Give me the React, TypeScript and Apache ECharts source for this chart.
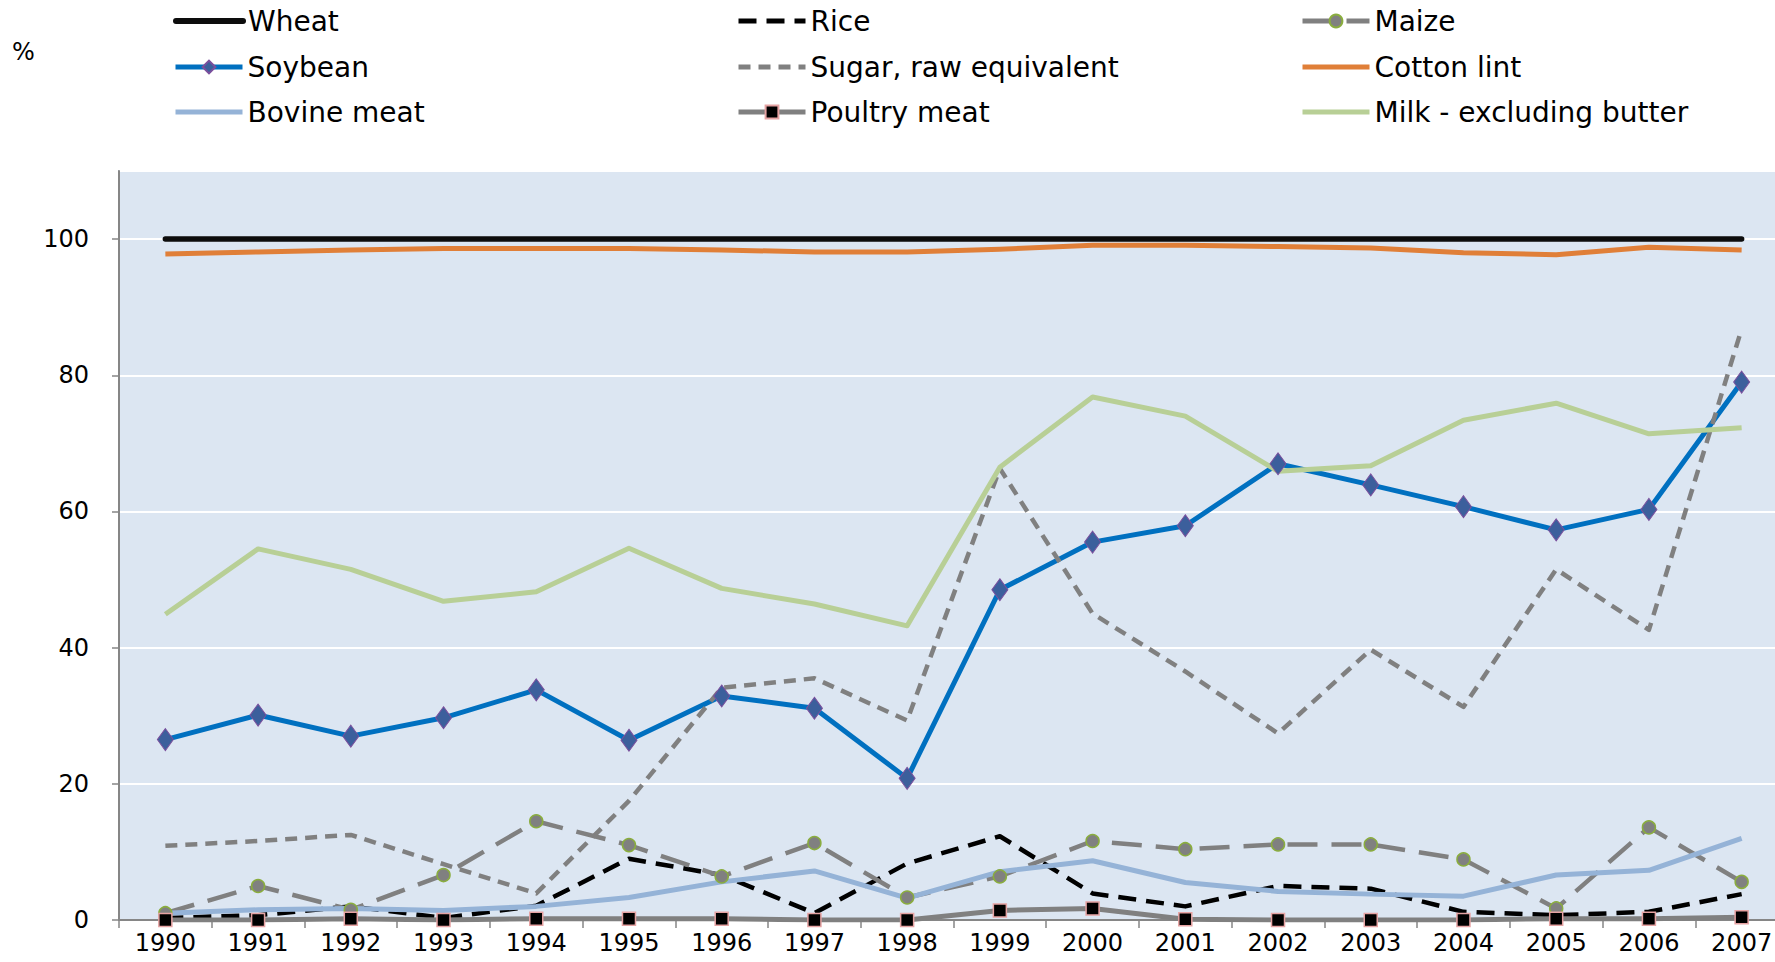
import React, { useEffect, useRef } from "react";
import * as echarts from "echarts";

const years = ["1990","1991","1992","1993","1994","1995","1996","1997","1998","1999","2000","2001","2002","2003","2004","2005","2006","2007"];
const wheat = [100,100,100,100,100,100,100,100,100,100,100,100,100,100,100,100,100,100];
const rice = [0.3,0.7,2.0,0.3,2.1,9.0,6.6,1.0,8.3,12.3,3.9,2.0,5.0,4.6,1.2,0.7,1.2,3.8];
const maize = [1.0,5.0,1.5,6.6,14.5,11.0,6.4,11.3,3.3,6.4,11.6,10.4,11.1,11.1,8.9,1.7,13.6,5.6];
const soybean = [26.5,30.1,27.0,29.7,33.8,26.4,32.9,31.1,20.8,48.5,55.5,57.9,67.0,63.9,60.7,57.3,60.3,79.0];
const sugar = [10.9,11.6,12.5,8.2,3.9,17.5,34.1,35.5,29.3,66.3,45.0,36.5,27.4,39.7,31.3,51.5,42.6,86.8];
const cotton = [97.8,98.1,98.4,98.6,98.6,98.6,98.4,98.1,98.1,98.5,99.1,99.1,98.9,98.7,98.0,97.7,98.8,98.4];
const bovine = [1.0,1.5,1.7,1.4,2.0,3.3,5.6,7.2,3.2,7.1,8.7,5.5,4.2,3.8,3.5,6.6,7.3,12.0];
const poultry = [0,0,0.2,0,0.2,0.2,0.2,0,0,1.4,1.7,0.1,0,0,0,0.2,0.2,0.4];
const milk = [44.9,54.5,51.5,46.8,48.2,54.6,48.7,46.4,43.2,66.5,76.8,74.0,65.9,66.7,73.4,75.9,71.4,72.3];

const FONT = "'DejaVu Sans', sans-serif";

export default function App() {
  const ref = useRef<HTMLDivElement>(null);
  useEffect(() => {
    if (!ref.current) return;
    const chart = echarts.init(ref.current, undefined, { renderer: "svg" });
    const legendCols = [173, 736, 1300];
    const legendRows = [6, 52, 97];
    const legendNames = [
      ["Wheat", "Rice", "Maize"],
      ["Soybean", "Sugar, raw equivalent", "Cotton lint"],
      ["Bovine meat", "Poultry meat", "Milk - excluding butter"],
    ];
    const withSymbol: Record<string, boolean> = { Maize: true, Soybean: true, "Poultry meat": true };
    const legendWidth: Record<string, number> = { Wheat: 6 };
    const legends: any[] = [];
    legendNames.forEach((row, r) =>
      row.forEach((name, c) => {
        legends.push({
          data: [name],
          left: legendCols[c],
          top: legendRows[r],
          padding: 0,
          itemWidth: 67,
          itemHeight: 16,
          selectedMode: false,
          lineStyle: { width: legendWidth[name] || 5 },
          itemStyle: withSymbol[name] ? {} : { opacity: 0 },
          textStyle: { fontSize: 28, fontFamily: FONT, color: "#000", lineHeight: 30 },
        });
      })
    );
    const line = (name: string, data: number[], color: string, width: number, type: any = "solid", extra: any = {}) => ({
      name,
      type: "line",
      data,
      symbol: "none",
      lineStyle: { color, width, type, cap: "butt", join: "round" },
      itemStyle: { color },
      ...extra,
    });
    chart.setOption({
      animation: false,
      legend: legends,
      graphic: [
        { type: "text", left: 12, top: 40, style: { text: "%", fontSize: 24, fontFamily: FONT, fill: "#000" } },
      ],
      grid: {
        left: 119,
        top: 171,
        right: -13,
        bottom: 42,
        outerBoundsMode: "none",
        show: true,
        backgroundColor: "#dce6f2",
        borderColor: "#8eaad0",
        borderWidth: 1.5,
      },
      xAxis: {
        type: "category",
        data: years,
        boundaryGap: true,
        axisLine: { lineStyle: { color: "#868686", width: 2 } },
        axisTick: { show: true, length: 8, lineStyle: { color: "#868686", width: 1.5 } },
        axisLabel: { fontSize: 24, fontFamily: FONT, color: "#000", margin: 11 },
        splitLine: { show: false },
      },
      yAxis: {
        type: "value",
        min: 0,
        max: 110,
        interval: 20,
        axisLine: { show: true, lineStyle: { color: "#868686", width: 2 } },
        axisTick: { show: true, length: 7, lineStyle: { color: "#868686", width: 1.5 } },
        axisLabel: { fontSize: 24, fontFamily: FONT, color: "#000", margin: 30, showMaxLabel: false },
        splitLine: { show: true, lineStyle: { color: "#ffffff", width: 2 } },
      },
      series: [
        line("Wheat", wheat, "#0d0d0d", 5.5, "solid", { lineStyle: { color: "#0d0d0d", width: 5.5, cap: "round" } }),
        line("Rice", rice, "#000000", 4.5, [18, 10]),
        line("Maize", maize, "#808080", 4.5, [30, 14], {
          symbol: "circle",
          symbolSize: 13,
          itemStyle: { color: "#808080", borderColor: "#8aad3e", borderWidth: 1.5 },
        }),
        line("Soybean", soybean, "#0070c0", 5, "solid", {
          symbol: "diamond",
          symbolSize: [16, 22],
          itemStyle: { color: "#3c5f9c", borderColor: "#7b4f9d", borderWidth: 1 },
        }),
        line("Sugar, raw equivalent", sugar, "#808080", 4.5, [12, 8]),
        line("Cotton lint", cotton, "#e07f38", 5),
        line("Bovine meat", bovine, "#95b3d7", 5),
        line("Poultry meat", poultry, "#808080", 5, "solid", {
          symbol: "rect",
          symbolSize: 13,
          itemStyle: { color: "#000000", borderColor: "#e6a3a3", borderWidth: 1.5 },
        }),
        line("Milk - excluding butter", milk, "#b8cf96", 5),
      ],
    });
    return () => chart.dispose();
  }, []);
  return (
    <div
      ref={ref}
      style={{ position: "absolute", left: 0, top: 0, width: 1775, height: 962, background: "#fff" }}
    />
  );
}
